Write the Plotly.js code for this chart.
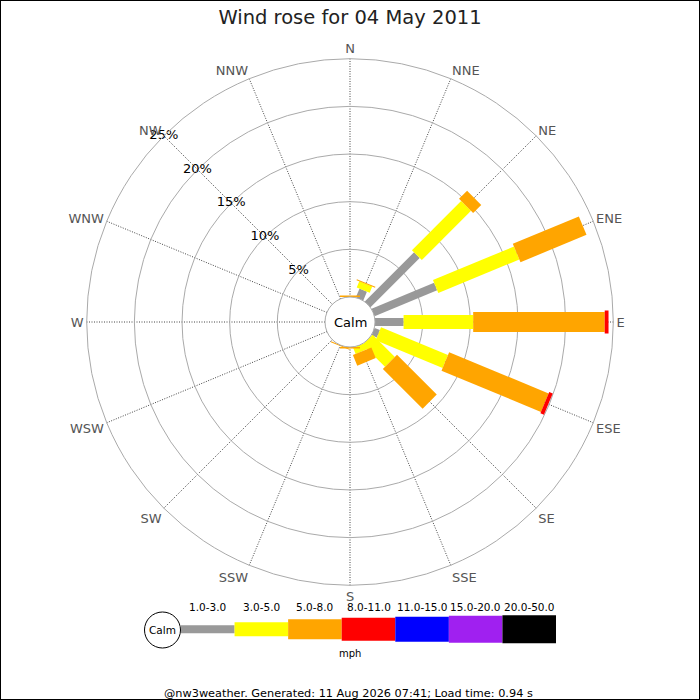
<!DOCTYPE html>
<html><head><meta charset="utf-8">
<script src="https://cdn.plot.ly/plotly-3.0.1.min.js"></script>
<style>html,body{margin:0;padding:0;background:#fff}#chart{width:700px;height:700px}</style>
</head><body><div id="chart"></div>
<script>
// ---- data ----
const directions = ['N','NNE','NE','ENE','E','ESE','SE','SSE','S','SSW','SW','WSW','W','WNW','NW','NNW'];
const directionAngles = [0,22.5,45,67.5,90,112.5,135,157.5,180,202.5,225,247.5,270,292.5,315,337.5];
const bandLabels = ['1.0-3.0','3.0-5.0','5.0-8.0','8.0-11.0','11.0-15.0','15.0-20.0','20.0-50.0'];
// percent of time per direction, per speed band (mph)
const speed1to3   = [0,    1.0, 7.3, 7.1, 3.0, 0.6, 0,   0,   0,    0,   0,0,0,0,0,0];
const speed3to5   = [0,    0.7, 7.3, 9.2, 7.3, 7.6, 3.3, 0.7, 0,    0,   0,0,0,0,0,0];
const speed5to8   = [0.15, 0.1, 1.2, 7.5, 13.8,11.3, 5.9, 1.2, 0.15, 0.1, 0,0,0,0,0,0];
const speed8to11  = [0,    0,   0,   0,   0.4, 0.4, 0,   0,   0,    0,   0,0,0,0,0,0];
const speed11to15 = [0,0,0,0,0,0,0,0,0,0,0,0,0,0,0,0];
const speed15to20 = [0,0,0,0,0,0,0,0,0,0,0,0,0,0,0,0];
const speed20to50 = [0,0,0,0,0,0,0,0,0,0,0,0,0,0,0,0];
const radialTicks = [5,10,15,20,25];
const radialTickText = ['5%','10%','15%','20%','25%'];
const radialLabelDirection = 315; // labels drawn along NW

// ---- styles ----
const bandColors = ['#999999','#ffff00','#ffa500','#ff0000','#0000ff','#a020f0','#000000'];
const bandWidths = [8,14,20,23,25,27,28];
const FONT = 'DejaVu Sans';

const bands = [speed1to3, speed3to5, speed5to8, speed8to11, speed11to15, speed15to20, speed20to50];
const traces = [];
const cum = directions.map(() => 0);
bands.forEach((vals, b) => {
  const r = [], th = [];
  vals.forEach((v, d) => {
    if (v > 0) { r.push(cum[d], cum[d] + v, null); th.push(directionAngles[d], directionAngles[d], null); }
    cum[d] += v;
  });
  if (r.length) traces.push({
    type: 'scatterpolar', mode: 'lines', r: r, theta: th, connectgaps: false,
    line: {color: bandColors[b], width: bandWidths[b], simplify: false},
    hoverinfo: 'skip', showlegend: false, cliponaxis: false
  });
});
// radial tick labels centred on the NW gridline
traces.push({
  type: 'scatterpolar', mode: 'text', r: radialTicks, theta: radialTicks.map(() => radialLabelDirection),
  text: radialTickText, textposition: 'middle center', cliponaxis: false,
  textfont: {family: FONT, size: 13, color: '#000'}, hoverinfo: 'skip', showlegend: false
});
// legend strip on a hidden cartesian axis
bandLabels.forEach((lab, i) => {
  traces.push({type: 'scatter', mode: 'lines', x: [i, i + 1], y: [0, 0], xaxis: 'x', yaxis: 'y',
    line: {color: bandColors[i], width: bandWidths[i]}, hoverinfo: 'skip', showlegend: false});
});

const annotations = bandLabels.map((lab, i) => ({
  xref: 'x', yref: 'paper', x: i + 0.5, y: 1 - 607/700, text: lab, showarrow: false,
  font: {family: FONT, size: 10.5, color: '#000'}, xanchor: 'center', yanchor: 'middle'
}));
annotations.push(
  {xref:'paper', yref:'paper', x:0.5, y:1-322/700, text:'Calm', showarrow:false, xanchor:'center', yanchor:'middle',
   font:{family:FONT, size:13, color:'#000'}},
  {xref:'paper', yref:'paper', x:162.5/700, y:1-630/700, text:'Calm', showarrow:false, xanchor:'center', yanchor:'middle',
   font:{family:FONT, size:10.5, color:'#000'}},
  {xref:'paper', yref:'paper', x:350/700, y:1-653/700, text:'mph', showarrow:false, xanchor:'center', yanchor:'middle',
   font:{family:FONT, size:10, color:'#000'}},
  {xref:'paper', yref:'paper', x:348/700, y:1-693/700, text:'@nw3weather. Generated: 11 Aug 2026 07:41; Load time: 0.94 s', showarrow:false,
   xanchor:'center', yanchor:'middle', font:{family:FONT, size:11.3, color:'#000'}}
);

const layout = {
  width: 700, height: 700,
  margin: {l:0, r:0, t:0, b:0},
  paper_bgcolor: '#fff', plot_bgcolor: '#fff',
  font: {family: FONT},
  title: {text: 'Wind rose for 04 May 2011', x: 0.5, xanchor: 'center', y: 1 - 17/700, yanchor: 'middle',
          yref: 'container', font: {family: FONT, size: 19.5, color: '#222'}},
  showlegend: false,
  polar: {
    domain: {x: [86.7/700, 613.3/700], y: [1 - 585.3/700, 1 - 58.7/700]},
    hole: 25/263.3,
    bgcolor: '#fff',
    radialaxis: {range: [0, 25], tickmode: 'array', tickvals: radialTicks, ticktext: radialTickText,
      angle: 135, showticklabels: false, showline: false, ticks: '', gridcolor: '#aaaaaa', gridwidth: 1},
    angularaxis: {type: 'linear', thetaunit: 'degrees', rotation: 90, direction: 'clockwise',
      tickmode: 'array', tickvals: directionAngles, ticktext: directions, ticks: '',
      showline: true, linecolor: '#aaaaaa', linewidth: 1,
      gridcolor: '#444444', griddash: '1px,1.5px', gridwidth: 1,
      tickfont: {family: FONT, size: 13, color: '#555'}}
  },
  xaxis: {domain: [181/700, 556/700], range: [0, 7], visible: false, fixedrange: true},
  yaxis: {domain: [1 - 629.3/700 - 0.05, 1 - 629.3/700 + 0.05], range: [-1, 1], visible: false, fixedrange: true},
  shapes: [
    {type:'circle', xref:'paper', yref:'paper', x0:144.5/700, x1:180.5/700, y0:1-648/700, y1:1-612/700,
     line:{color:'#000', width:1}, fillcolor:'rgba(0,0,0,0)'},
    {type:'rect', xref:'paper', yref:'paper', x0:0, x1:1, y0:0, y1:1, line:{color:'#000', width:2}}
  ],
  annotations: annotations
};
Plotly.newPlot('chart', traces, layout, {displayModeBar: false, staticPlot: true});
</script></body></html>
